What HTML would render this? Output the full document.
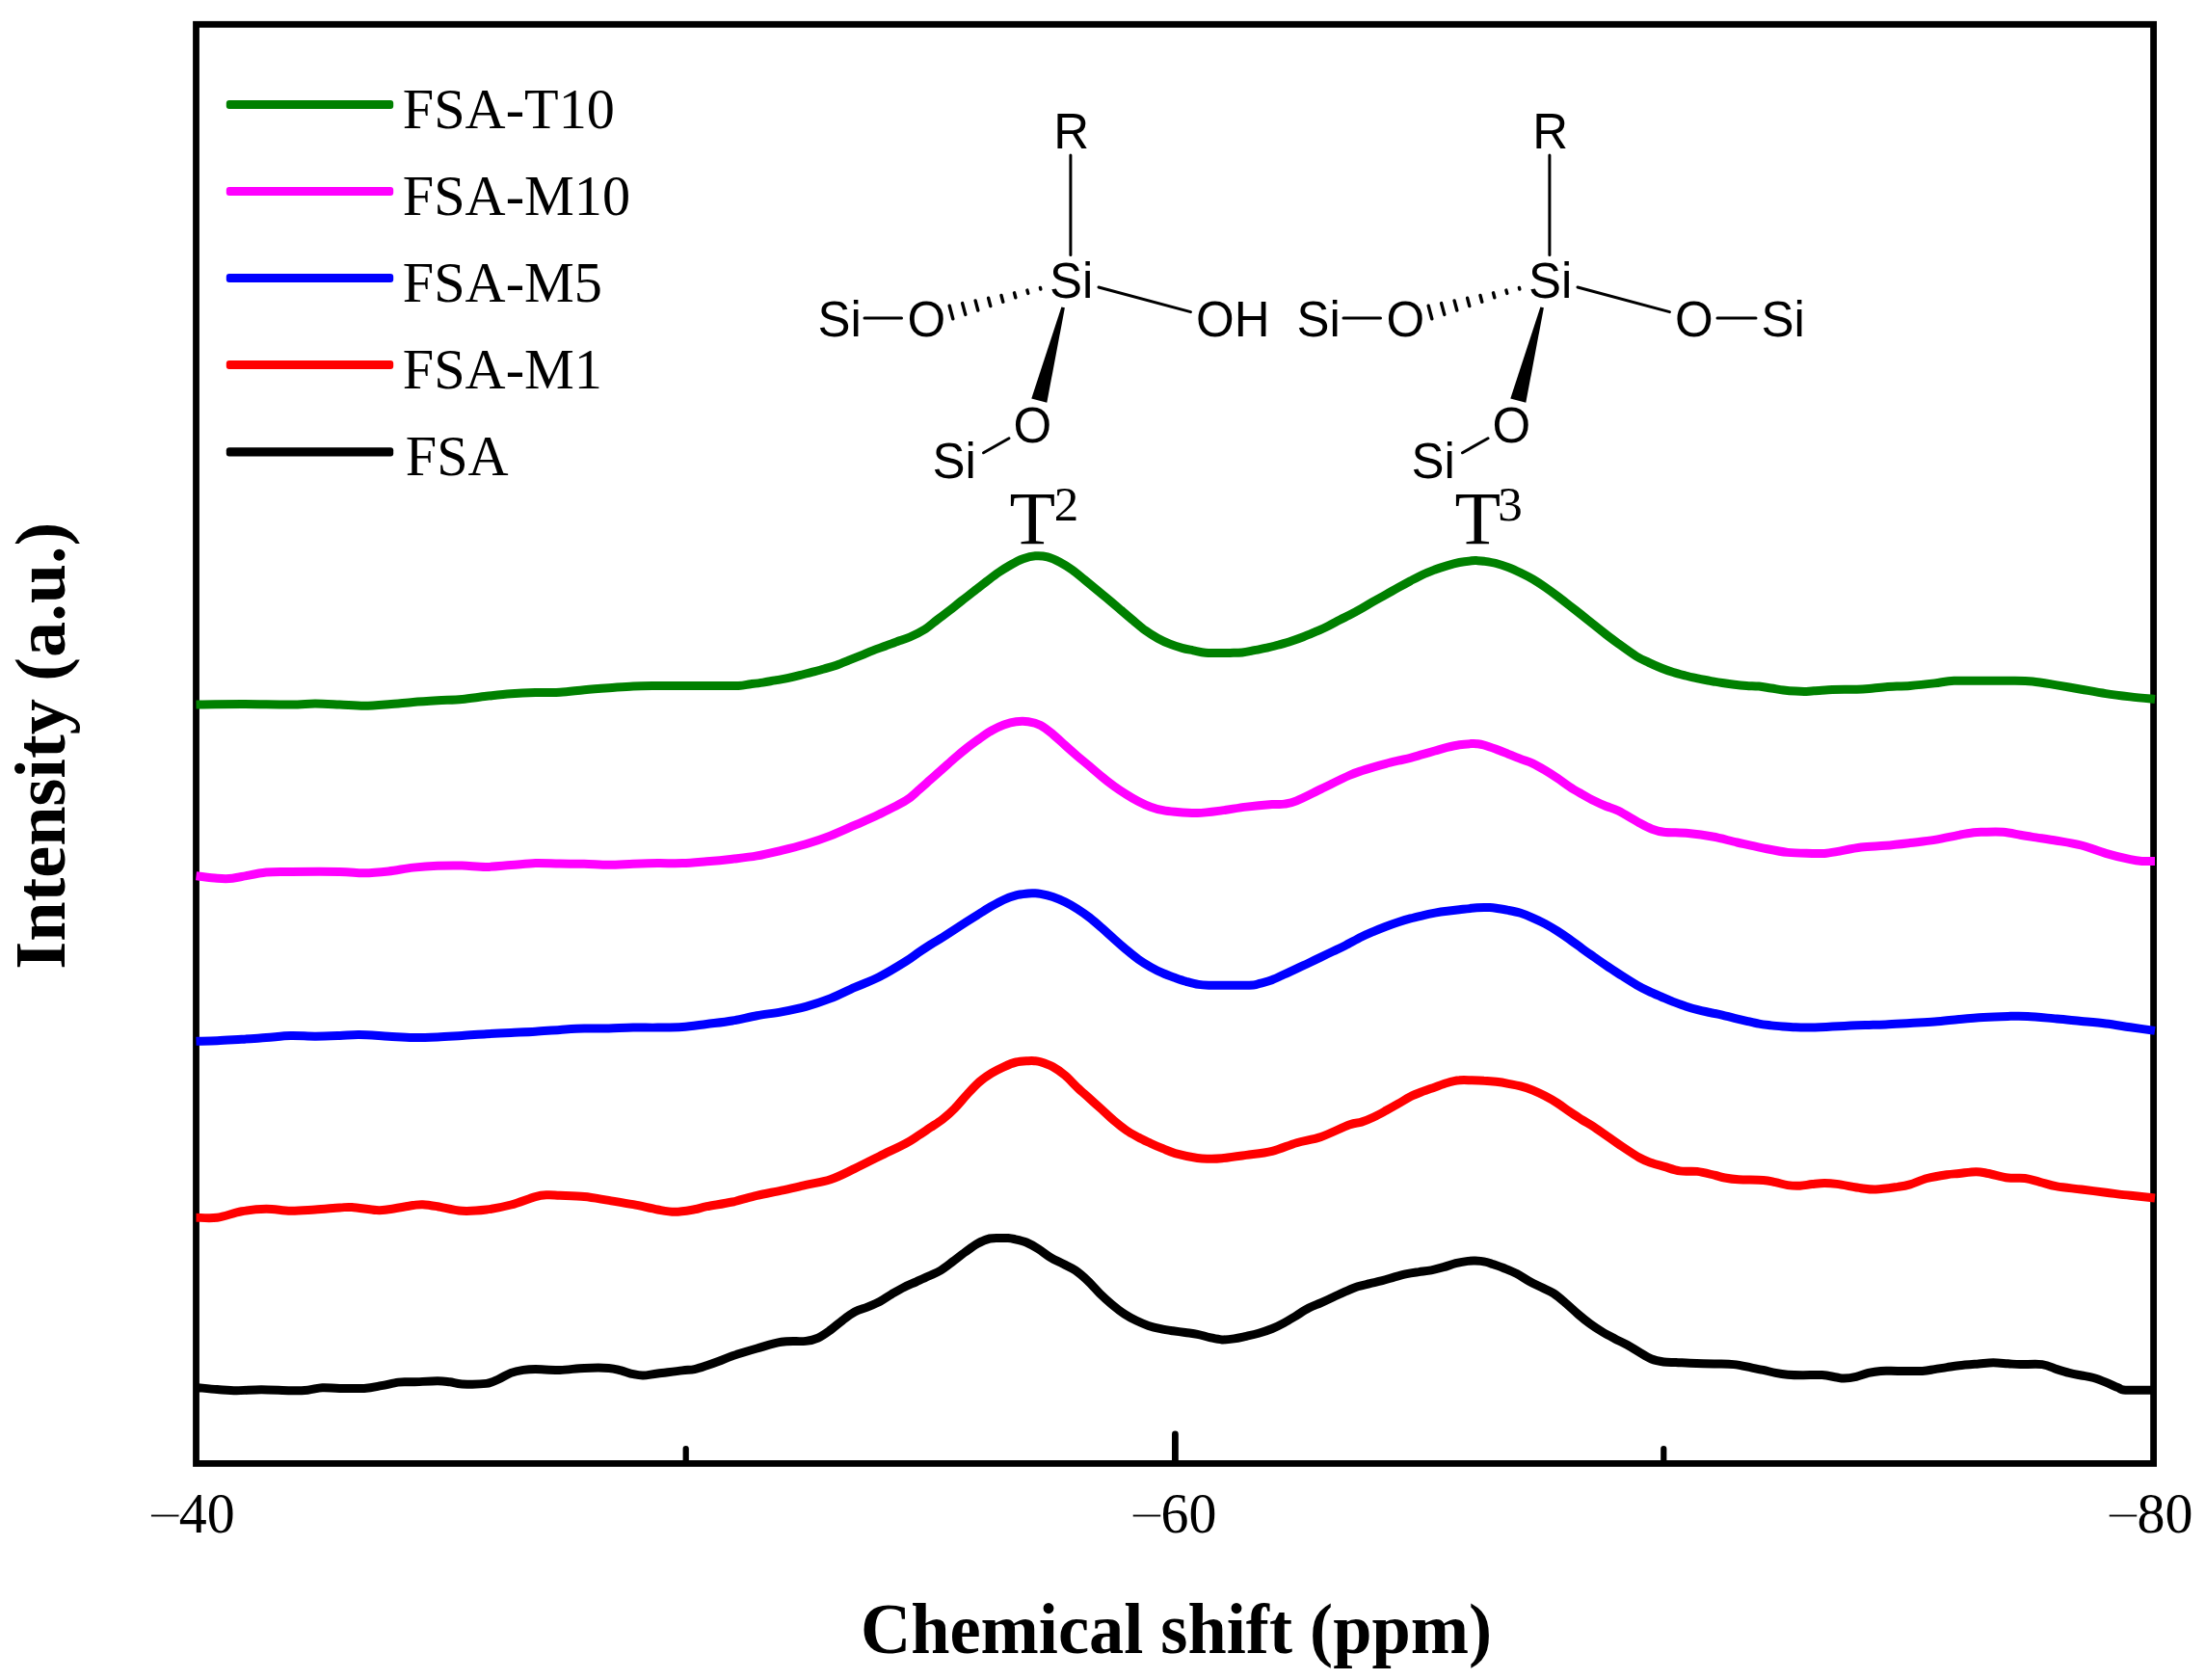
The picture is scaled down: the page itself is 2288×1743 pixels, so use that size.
<!DOCTYPE html>
<html><head><meta charset="utf-8"><title>29Si NMR spectra</title>
<style>
html,body{margin:0;padding:0;background:#fff;}
svg{display:block;}
.s{font-family:"Liberation Serif","Times New Roman",serif;}
.b{font-family:"Liberation Serif","Times New Roman",serif;font-weight:bold;}
.a{font-family:"Liberation Sans",Arial,sans-serif;}
</style></head><body>
<svg width="2288" height="1743" viewBox="0 0 2288 1743">
<rect x="0" y="0" width="2288" height="1743" fill="#fff"/>
<g id="frame" fill="none" stroke="#000" stroke-width="6.8">
<rect x="203.5" y="25.3" width="2031.1" height="1493.1" stroke-linejoin="miter"/>
<path d="M1219.4 1516V1488" stroke-linecap="round" stroke-width="6.8"/>
<path d="M711.7 1516V1503M1726.3 1516V1503" stroke-linecap="round" stroke-width="6.2"/>
</g>
<g id="curves" fill="none" stroke-width="9" stroke-linejoin="round" stroke-linecap="butt">
<path stroke="#000" d="M203.5 1439.5C207.2 1439.8 218.4 1441.0 225.4 1441.5C232.4 1442.0 238.1 1442.7 245.7 1442.7C253.3 1442.7 261.8 1441.7 271.1 1441.7C280.4 1441.7 293.6 1442.6 301.6 1442.7C309.7 1442.8 313.9 1442.7 319.4 1442.2C324.9 1441.7 329.1 1440.0 334.6 1439.7C340.1 1439.4 345.2 1440.3 352.4 1440.4C359.6 1440.5 370.6 1440.9 377.8 1440.4C385.0 1440.0 389.7 1438.8 395.6 1437.7C401.5 1436.7 407.8 1434.8 413.3 1434.1C418.8 1433.4 421.8 1434.0 428.6 1433.8C435.4 1433.6 447.6 1432.8 454.0 1432.8C460.4 1432.8 462.5 1433.3 466.7 1433.8C470.9 1434.3 473.0 1435.6 479.4 1435.9C485.8 1436.2 498.4 1436.2 504.8 1435.4C511.2 1434.6 513.3 1432.6 517.5 1430.8C521.7 1429.0 526.0 1426.0 530.2 1424.4C534.4 1422.8 538.7 1422.0 542.9 1421.4C547.1 1420.8 549.2 1420.6 555.6 1420.6C562.0 1420.6 572.5 1421.6 581.0 1421.4C589.5 1421.2 597.8 1419.7 606.3 1419.4C614.8 1419.1 625.4 1419.0 631.7 1419.4C638.1 1419.8 640.2 1420.9 644.4 1421.9C648.6 1423.0 653.3 1424.9 657.1 1425.7C660.9 1426.5 663.1 1427.1 667.3 1427.0C671.5 1426.9 675.7 1425.8 682.5 1425.0C689.3 1424.2 701.5 1422.6 707.9 1421.9C714.2 1421.2 716.4 1421.4 720.6 1420.6C724.8 1419.8 729.1 1418.2 733.3 1416.8C737.5 1415.4 741.5 1414.0 746.0 1412.3C750.5 1410.6 753.4 1408.9 760.0 1406.7C766.6 1404.5 776.9 1401.4 785.4 1399.0C793.9 1396.6 802.3 1393.5 810.8 1392.2C819.3 1390.9 829.9 1392.1 836.2 1391.4C842.6 1390.7 844.7 1390.0 848.9 1388.1C853.1 1386.2 857.4 1383.0 861.6 1380.0C865.8 1377.0 870.1 1373.0 874.3 1369.8C878.5 1366.6 882.7 1363.3 887.0 1361.0C891.3 1358.7 895.7 1357.8 900.0 1356.1C904.3 1354.4 908.5 1352.8 912.7 1350.6C916.9 1348.3 921.2 1345.1 925.4 1342.6C929.6 1340.1 933.9 1337.5 938.1 1335.4C942.3 1333.3 946.6 1331.7 950.8 1329.8C955.0 1327.9 959.3 1326.0 963.5 1324.0C967.7 1322.0 972.0 1320.5 976.2 1318.0C980.4 1315.5 984.7 1311.9 988.9 1308.7C993.1 1305.5 997.4 1302.1 1001.6 1299.0C1005.8 1295.9 1010.1 1292.5 1014.3 1290.2C1018.5 1287.9 1022.8 1286.0 1027.0 1285.0C1031.2 1284.0 1036.5 1284.6 1039.7 1284.5C1042.9 1284.4 1043.9 1284.3 1046.0 1284.5C1048.1 1284.7 1049.2 1284.8 1052.4 1285.5C1055.6 1286.2 1060.9 1287.2 1065.1 1289.0C1069.3 1290.8 1073.6 1293.3 1077.8 1296.0C1082.0 1298.7 1086.3 1302.4 1090.5 1304.9C1094.7 1307.5 1099.0 1309.1 1103.2 1311.3C1107.4 1313.5 1111.7 1315.1 1115.9 1318.0C1120.1 1320.9 1124.4 1324.7 1128.6 1328.7C1132.8 1332.7 1137.1 1337.9 1141.3 1342.1C1145.5 1346.2 1149.8 1350.1 1154.0 1353.6C1158.2 1357.1 1162.5 1360.5 1166.7 1363.3C1170.9 1366.1 1175.2 1368.3 1179.4 1370.3C1183.6 1372.3 1187.5 1374.0 1191.7 1375.4C1195.9 1376.8 1200.2 1377.8 1204.4 1378.7C1208.6 1379.6 1212.9 1380.2 1217.1 1380.8C1221.3 1381.4 1225.6 1381.9 1229.8 1382.5C1234.0 1383.1 1238.3 1383.5 1242.5 1384.3C1246.7 1385.1 1251.0 1386.7 1255.2 1387.6C1259.4 1388.5 1263.7 1389.7 1267.9 1389.9C1272.1 1390.1 1276.4 1389.5 1280.6 1388.9C1284.8 1388.3 1289.1 1387.2 1293.3 1386.3C1297.5 1385.4 1301.5 1384.6 1306.0 1383.3C1310.5 1382.0 1315.5 1380.3 1320.0 1378.5C1324.5 1376.7 1328.5 1374.7 1332.7 1372.4C1336.9 1370.1 1341.2 1367.3 1345.4 1364.8C1349.6 1362.2 1353.9 1359.3 1358.1 1357.1C1362.3 1354.9 1366.6 1353.5 1370.8 1351.6C1375.0 1349.7 1379.3 1347.7 1383.5 1345.7C1387.7 1343.8 1392.0 1341.7 1396.2 1339.9C1400.4 1338.1 1404.7 1336.2 1408.9 1334.8C1413.1 1333.4 1417.4 1332.7 1421.6 1331.7C1425.8 1330.7 1430.1 1329.8 1434.3 1328.7C1438.5 1327.6 1442.8 1326.1 1447.0 1324.9C1451.2 1323.7 1455.5 1322.5 1459.7 1321.6C1463.9 1320.7 1468.2 1320.2 1472.4 1319.6C1476.6 1319.0 1480.9 1318.6 1485.1 1317.8C1489.3 1317.0 1493.6 1315.9 1497.8 1314.7C1502.0 1313.5 1506.3 1311.8 1510.5 1310.7C1514.7 1309.7 1519.8 1308.8 1523.2 1308.4C1526.6 1308.0 1527.8 1308.0 1530.8 1308.1C1533.8 1308.2 1538.0 1308.5 1541.0 1309.1C1544.0 1309.6 1545.2 1310.2 1548.6 1311.4C1552.0 1312.6 1557.1 1314.3 1561.3 1316.0C1565.5 1317.7 1569.8 1319.4 1574.0 1321.6C1578.2 1323.8 1582.5 1326.9 1586.7 1329.2C1590.9 1331.5 1595.2 1333.5 1599.4 1335.6C1603.6 1337.7 1607.9 1339.2 1612.1 1341.9C1616.3 1344.7 1620.6 1348.5 1624.8 1352.1C1629.0 1355.7 1633.3 1359.9 1637.5 1363.5C1641.7 1367.1 1646.0 1370.6 1650.2 1373.7C1654.4 1376.8 1658.7 1379.5 1662.9 1382.0C1667.1 1384.5 1671.4 1386.7 1675.6 1388.9C1679.8 1391.1 1684.1 1392.9 1688.3 1395.2C1692.5 1397.5 1696.8 1400.4 1701.0 1402.9C1705.2 1405.4 1709.5 1408.3 1713.7 1410.0C1717.9 1411.7 1722.1 1412.4 1726.3 1413.0C1730.5 1413.6 1734.5 1413.3 1739.0 1413.5C1743.5 1413.7 1746.8 1414.0 1753.4 1414.3C1760.0 1414.5 1771.2 1414.8 1778.8 1415.0C1786.4 1415.2 1792.8 1414.9 1799.1 1415.6C1805.4 1416.2 1811.8 1417.9 1816.9 1418.9C1822.0 1419.9 1825.4 1420.5 1829.6 1421.4C1833.8 1422.3 1838.1 1423.6 1842.3 1424.4C1846.5 1425.2 1850.3 1425.8 1855.0 1426.2C1859.7 1426.6 1864.3 1426.7 1870.2 1426.7C1876.1 1426.8 1884.6 1426.1 1890.5 1426.5C1896.4 1426.9 1902.0 1428.4 1905.8 1429.0C1909.6 1429.6 1910.0 1430.1 1913.4 1430.0C1916.8 1429.9 1921.9 1429.2 1926.1 1428.3C1930.3 1427.4 1934.6 1425.4 1938.8 1424.4C1943.0 1423.4 1946.4 1422.7 1951.5 1422.4C1956.6 1422.1 1962.1 1422.4 1969.3 1422.4C1976.5 1422.4 1988.3 1422.7 1994.7 1422.4C2001.1 1422.1 2003.2 1421.2 2007.4 1420.6C2011.6 1420.0 2015.9 1419.2 2020.1 1418.6C2024.3 1418.0 2027.3 1417.4 2032.8 1416.8C2038.3 1416.2 2047.2 1415.5 2053.1 1415.0C2059.0 1414.5 2063.2 1413.8 2068.3 1413.8C2073.4 1413.8 2078.9 1414.5 2083.6 1414.8C2088.3 1415.1 2090.4 1415.5 2096.3 1415.6C2102.2 1415.7 2112.8 1414.8 2119.1 1415.6C2125.4 1416.4 2129.7 1419.1 2134.3 1420.6C2139.0 1422.1 2142.8 1423.3 2147.0 1424.4C2151.2 1425.5 2155.5 1426.2 2159.7 1427.0C2163.9 1427.8 2168.2 1428.3 2172.4 1429.5C2176.6 1430.7 2180.9 1432.4 2185.1 1434.1C2189.3 1435.8 2194.4 1438.3 2197.8 1439.7C2201.2 1441.1 2199.1 1441.8 2205.5 1442.2C2211.9 1442.6 2230.9 1442.2 2236.0 1442.2"/>
<path stroke="#ff0000" d="M203.5 1263.2C207.2 1263.2 217.5 1264.3 225.4 1263.2C233.3 1262.1 242.3 1258.3 250.8 1256.8C259.3 1255.3 267.7 1254.4 276.2 1254.3C284.7 1254.2 293.1 1256.2 301.6 1256.3C310.1 1256.4 318.5 1255.5 327.0 1255.0C335.5 1254.5 346.0 1253.4 352.4 1253.0C358.8 1252.6 358.8 1252.1 365.1 1252.5C371.5 1252.9 384.1 1255.2 390.5 1255.6C396.9 1256.0 396.8 1255.6 403.2 1254.8C409.6 1254.0 422.7 1251.3 428.6 1250.5C434.5 1249.7 434.5 1249.5 438.7 1249.7C442.9 1249.9 447.2 1250.6 454.0 1251.7C460.8 1252.8 470.9 1255.8 479.4 1256.3C487.9 1256.8 496.3 1256.0 504.8 1255.0C513.3 1254.0 521.7 1252.2 530.2 1250.0C538.7 1247.8 549.2 1243.3 555.6 1241.6C562.0 1239.9 564.1 1240.0 568.3 1239.8C572.5 1239.6 574.7 1240.0 581.0 1240.3C587.3 1240.6 597.8 1240.8 606.3 1241.6C614.8 1242.4 623.2 1244.1 631.7 1245.4C640.2 1246.8 648.6 1248.1 657.1 1249.7C665.6 1251.3 675.3 1253.7 682.5 1255.0C689.7 1256.3 693.9 1257.3 700.3 1257.3C706.6 1257.3 715.1 1255.7 720.6 1254.8C726.1 1253.9 726.7 1253.0 733.3 1251.7C739.9 1250.4 751.3 1248.9 760.0 1247.0C768.7 1245.1 776.9 1242.3 785.4 1240.3C793.9 1238.3 802.3 1237.0 810.8 1235.2C819.3 1233.4 827.7 1231.3 836.2 1229.4C844.7 1227.5 853.1 1226.6 861.6 1223.8C870.1 1221.0 878.5 1216.4 887.0 1212.4C895.5 1208.4 903.6 1204.1 912.4 1199.7C921.2 1195.3 933.3 1189.8 940.0 1186.2C946.7 1182.6 948.5 1181.0 952.7 1178.3C956.9 1175.6 961.2 1172.6 965.4 1169.8C969.6 1167.0 973.9 1164.5 978.1 1161.2C982.3 1157.9 986.6 1154.1 990.8 1149.8C995.0 1145.5 999.3 1140.0 1003.5 1135.5C1007.7 1131.0 1012.0 1126.2 1016.2 1122.5C1020.4 1118.8 1024.7 1116.0 1028.9 1113.4C1033.1 1110.8 1037.4 1108.7 1041.6 1106.8C1045.8 1104.9 1050.1 1103.0 1054.3 1102.0C1058.5 1101.0 1063.8 1100.9 1067.0 1100.7C1070.2 1100.5 1071.2 1100.5 1073.3 1100.7C1075.4 1100.9 1076.5 1100.8 1079.7 1101.8C1082.9 1102.8 1088.2 1104.5 1092.4 1106.8C1096.6 1109.1 1100.9 1112.1 1105.1 1115.7C1109.3 1119.3 1113.6 1124.2 1117.8 1128.2C1122.0 1132.2 1126.3 1135.8 1130.5 1139.6C1134.7 1143.4 1139.0 1147.2 1143.2 1151.0C1147.4 1154.8 1151.7 1159.1 1155.9 1162.7C1160.1 1166.3 1164.4 1169.7 1168.6 1172.6C1172.8 1175.5 1177.1 1177.7 1181.3 1180.0C1185.5 1182.3 1189.8 1184.2 1194.0 1186.2C1198.2 1188.2 1202.5 1190.0 1206.7 1191.7C1210.9 1193.4 1213.4 1195.0 1219.4 1196.6C1225.4 1198.2 1236.5 1200.6 1242.5 1201.5C1248.5 1202.4 1251.0 1202.2 1255.2 1202.2C1259.4 1202.2 1261.6 1202.3 1267.9 1201.7C1274.2 1201.1 1284.6 1199.6 1293.3 1198.4C1302.0 1197.2 1311.3 1196.4 1320.0 1194.3C1328.7 1192.2 1336.9 1188.2 1345.4 1185.7C1353.9 1183.2 1361.7 1182.5 1370.8 1179.4C1379.9 1176.3 1393.0 1169.5 1400.0 1167.0C1407.0 1164.5 1408.5 1165.4 1412.7 1164.1C1416.9 1162.8 1421.2 1161.0 1425.4 1159.0C1429.6 1157.0 1433.9 1154.6 1438.1 1152.3C1442.3 1150.0 1446.6 1147.6 1450.8 1145.2C1455.0 1142.8 1459.3 1139.8 1463.5 1137.7C1467.7 1135.6 1472.0 1134.0 1476.2 1132.4C1480.4 1130.8 1484.7 1129.4 1488.9 1127.9C1493.1 1126.4 1497.4 1124.7 1501.6 1123.5C1505.8 1122.3 1510.1 1121.2 1514.3 1120.8C1518.5 1120.3 1522.8 1120.7 1527.0 1120.8C1531.2 1120.9 1535.5 1121.0 1539.7 1121.3C1543.9 1121.5 1548.2 1121.8 1552.4 1122.3C1556.6 1122.8 1560.9 1123.5 1565.1 1124.3C1569.3 1125.1 1573.6 1125.8 1577.8 1126.9C1582.0 1128.0 1586.3 1129.4 1590.5 1131.1C1594.7 1132.8 1599.0 1134.9 1603.2 1137.1C1607.4 1139.3 1611.7 1141.7 1615.9 1144.4C1620.1 1147.1 1624.4 1150.4 1628.6 1153.3C1632.8 1156.2 1637.1 1158.9 1641.3 1161.6C1645.5 1164.2 1649.8 1166.5 1654.0 1169.2C1658.2 1172.0 1662.5 1175.1 1666.7 1178.1C1670.9 1181.1 1673.7 1183.2 1679.4 1187.0C1685.1 1190.8 1695.3 1197.8 1701.0 1201.0C1706.7 1204.2 1709.4 1204.9 1713.7 1206.5C1718.0 1208.1 1722.1 1209.0 1727.0 1210.4C1731.9 1211.8 1737.5 1214.1 1743.2 1214.9C1748.9 1215.7 1755.1 1214.7 1761.0 1215.4C1766.9 1216.1 1774.0 1218.1 1778.8 1219.2C1783.6 1220.3 1785.6 1221.2 1789.8 1222.0C1794.0 1222.8 1797.6 1223.4 1804.2 1223.8C1810.8 1224.2 1823.2 1224.0 1829.6 1224.5C1835.9 1225.0 1838.1 1225.9 1842.3 1226.7C1846.5 1227.5 1850.8 1229.0 1855.0 1229.6C1859.2 1230.2 1863.5 1230.4 1867.7 1230.2C1871.9 1230.0 1876.2 1229.0 1880.4 1228.6C1884.6 1228.2 1888.9 1227.6 1893.1 1227.6C1897.3 1227.6 1899.4 1227.6 1905.8 1228.4C1912.2 1229.2 1924.4 1231.8 1931.2 1232.7C1938.0 1233.6 1940.1 1234.2 1946.4 1234.0C1952.8 1233.8 1963.4 1232.2 1969.3 1231.4C1975.2 1230.6 1976.9 1230.4 1982.0 1228.9C1987.1 1227.4 1993.4 1224.2 1999.7 1222.5C2006.0 1220.8 2014.6 1219.5 2020.1 1218.7C2025.6 1217.9 2027.7 1218.0 2032.8 1217.5C2037.9 1217.0 2045.4 1215.7 2050.5 1215.7C2055.6 1215.7 2057.7 1216.5 2063.2 1217.5C2068.7 1218.5 2077.2 1221.2 2083.6 1222.0C2089.9 1222.8 2095.8 1221.8 2101.3 1222.5C2106.8 1223.2 2111.1 1224.9 2116.6 1226.3C2122.1 1227.7 2127.1 1229.6 2134.3 1230.9C2141.5 1232.2 2151.2 1232.9 2159.7 1234.0C2168.2 1235.1 2176.6 1236.2 2185.1 1237.3C2193.6 1238.3 2202.0 1239.4 2210.5 1240.3C2219.0 1241.2 2231.8 1242.5 2236.0 1242.9"/>
<path stroke="#0000ff" d="M203.5 1080.3C207.2 1080.2 217.5 1080.1 225.4 1079.8C233.3 1079.5 242.3 1078.8 250.8 1078.3C259.3 1077.8 267.7 1077.1 276.2 1076.5C284.7 1075.9 293.1 1074.7 301.6 1074.5C310.1 1074.3 318.5 1075.2 327.0 1075.2C335.5 1075.2 344.8 1074.8 352.4 1074.5C360.0 1074.2 364.2 1073.4 372.7 1073.5C381.2 1073.6 393.9 1074.7 403.2 1075.2C412.5 1075.7 420.1 1076.4 428.6 1076.5C437.1 1076.6 445.5 1076.3 454.0 1076.0C462.5 1075.7 470.9 1075.0 479.4 1074.5C487.9 1074.0 496.3 1073.2 504.8 1072.7C513.3 1072.2 521.7 1071.8 530.2 1071.4C538.7 1071.0 547.1 1070.7 555.6 1070.2C564.1 1069.7 572.5 1068.9 581.0 1068.4C589.5 1067.9 597.8 1067.3 606.3 1067.1C614.8 1066.8 623.2 1067.1 631.7 1066.9C640.2 1066.7 648.6 1066.2 657.1 1066.1C665.6 1066.0 674.0 1066.2 682.5 1066.1C691.0 1066.0 699.4 1066.2 707.9 1065.6C716.4 1065.0 724.6 1063.6 733.3 1062.5C742.0 1061.4 751.3 1060.5 760.0 1059.0C768.7 1057.5 776.9 1055.2 785.4 1053.7C793.9 1052.2 802.3 1051.4 810.8 1049.8C819.3 1048.2 827.7 1046.6 836.2 1044.3C844.7 1042.0 853.1 1039.2 861.6 1035.9C870.1 1032.6 878.5 1028.1 887.0 1024.4C895.5 1020.7 903.6 1018.0 912.4 1013.5C921.2 1009.0 933.3 1001.6 940.0 997.4C946.7 993.2 948.5 991.4 952.7 988.5C956.9 985.6 961.2 982.8 965.4 980.1C969.6 977.4 973.9 975.1 978.1 972.5C982.3 969.9 986.6 967.0 990.8 964.3C995.0 961.5 999.3 958.7 1003.5 956.0C1007.7 953.3 1012.0 950.6 1016.2 948.0C1020.4 945.4 1024.7 942.6 1028.9 940.2C1033.1 937.8 1037.4 935.4 1041.6 933.5C1045.8 931.6 1050.1 930.0 1054.3 928.9C1058.5 927.8 1063.8 927.4 1067.0 927.0C1070.2 926.6 1071.2 926.8 1073.3 926.8C1075.4 926.8 1076.5 926.7 1079.7 927.3C1082.9 927.9 1088.2 929.0 1092.4 930.4C1096.6 931.8 1100.9 933.7 1105.1 935.8C1109.3 937.9 1113.6 940.3 1117.8 943.0C1122.0 945.7 1126.3 948.6 1130.5 951.9C1134.7 955.2 1139.0 959.0 1143.2 962.7C1147.4 966.4 1151.7 970.4 1155.9 974.1C1160.1 977.9 1164.4 981.7 1168.6 985.2C1172.8 988.7 1177.1 992.3 1181.3 995.3C1185.5 998.3 1189.8 1000.9 1194.0 1003.3C1198.2 1005.7 1202.5 1007.8 1206.7 1009.7C1210.9 1011.6 1215.4 1013.1 1219.4 1014.5C1223.4 1015.9 1226.8 1017.1 1230.8 1018.3C1234.8 1019.4 1239.3 1020.7 1243.5 1021.4C1247.7 1022.1 1249.9 1022.1 1256.2 1022.3C1262.5 1022.4 1274.2 1022.3 1281.6 1022.3C1289.0 1022.2 1296.4 1022.3 1300.6 1022.0C1304.8 1021.7 1303.8 1021.3 1307.0 1020.4C1310.2 1019.5 1315.5 1018.4 1319.7 1016.8C1323.9 1015.2 1328.2 1013.0 1332.4 1011.0C1336.6 1009.0 1340.9 1007.1 1345.1 1005.1C1349.3 1003.1 1353.6 1001.2 1357.8 999.2C1362.0 997.2 1366.3 995.1 1370.5 993.1C1374.7 991.1 1379.0 989.0 1383.2 987.0C1387.4 985.0 1391.0 983.4 1395.9 980.9C1400.8 978.4 1407.8 974.4 1412.7 972.0C1417.6 969.6 1421.2 968.1 1425.4 966.3C1429.6 964.5 1433.9 962.8 1438.1 961.2C1442.3 959.6 1446.6 958.1 1450.8 956.7C1455.0 955.3 1459.3 954.0 1463.5 952.9C1467.7 951.8 1472.0 950.8 1476.2 949.8C1480.4 948.8 1484.7 947.9 1488.9 947.1C1493.1 946.4 1497.4 945.8 1501.6 945.3C1505.8 944.8 1510.1 944.3 1514.3 943.8C1518.5 943.3 1522.8 942.7 1527.0 942.3C1531.2 941.9 1536.5 941.7 1539.7 941.6C1542.9 941.5 1543.9 941.5 1546.0 941.6C1548.1 941.7 1549.2 941.8 1552.4 942.3C1555.6 942.8 1560.9 943.6 1565.1 944.4C1569.3 945.2 1573.6 946.0 1577.8 947.3C1582.0 948.6 1586.3 950.4 1590.5 952.3C1594.7 954.1 1599.0 956.1 1603.2 958.4C1607.4 960.7 1611.7 963.2 1615.9 965.9C1620.1 968.6 1624.4 971.5 1628.6 974.5C1632.8 977.5 1637.1 980.7 1641.3 983.8C1645.5 986.9 1649.8 989.9 1654.0 992.9C1658.2 995.9 1662.5 998.9 1666.7 1001.8C1670.9 1004.7 1674.2 1006.8 1679.4 1010.1C1684.6 1013.4 1692.9 1018.8 1698.1 1021.8C1703.3 1024.8 1706.6 1026.4 1710.8 1028.4C1715.0 1030.4 1719.3 1032.2 1723.5 1034.0C1727.7 1035.8 1732.0 1037.8 1736.2 1039.4C1740.4 1041.1 1744.7 1042.5 1748.9 1043.9C1753.1 1045.3 1757.4 1046.6 1761.6 1047.7C1765.8 1048.8 1770.1 1049.6 1774.3 1050.5C1778.5 1051.4 1782.8 1052.1 1787.0 1053.1C1791.2 1054.1 1795.5 1055.3 1799.7 1056.3C1803.9 1057.3 1808.2 1058.3 1812.4 1059.3C1816.6 1060.3 1820.9 1061.4 1825.1 1062.2C1829.3 1063.0 1833.6 1063.4 1837.8 1063.9C1842.0 1064.4 1846.3 1064.7 1850.5 1065.0C1854.7 1065.3 1859.0 1065.6 1863.2 1065.8C1867.4 1066.0 1871.7 1066.0 1875.9 1066.0C1880.1 1066.0 1884.4 1066.0 1888.6 1065.8C1892.8 1065.6 1897.1 1065.3 1901.3 1065.1C1905.5 1064.9 1909.8 1064.6 1914.0 1064.4C1918.2 1064.2 1922.5 1063.9 1926.7 1063.7C1930.9 1063.5 1934.4 1063.5 1939.4 1063.4C1944.4 1063.3 1949.5 1063.3 1956.6 1063.0C1963.7 1062.7 1973.5 1062.0 1982.0 1061.5C1990.5 1061.0 1998.9 1060.7 2007.4 1060.0C2015.9 1059.3 2024.3 1058.3 2032.8 1057.5C2041.3 1056.7 2049.7 1055.9 2058.2 1055.4C2066.7 1054.9 2076.0 1054.6 2083.6 1054.4C2091.2 1054.2 2095.4 1054.0 2103.9 1054.4C2112.4 1054.8 2125.0 1056.2 2134.3 1057.0C2143.6 1057.8 2151.2 1058.7 2159.7 1059.5C2168.2 1060.3 2176.6 1061.0 2185.1 1062.0C2193.6 1063.0 2202.0 1064.6 2210.5 1065.8C2219.0 1067.0 2231.8 1068.8 2236.0 1069.4"/>
<path stroke="#ff00ff" d="M203.5 908.8C207.2 909.2 219.7 910.8 225.4 911.3C231.2 911.8 233.8 911.9 238.0 911.6C242.2 911.3 244.4 910.6 250.8 909.5C257.2 908.4 267.7 905.9 276.2 905.0C284.7 904.1 288.9 904.5 301.6 904.4C314.3 904.3 339.7 904.2 352.4 904.4C365.1 904.6 369.3 905.8 377.8 905.7C386.3 905.6 394.7 904.8 403.2 903.9C411.7 903.0 420.1 901.0 428.6 900.1C437.1 899.2 445.5 898.6 454.0 898.3C462.5 898.0 470.9 897.9 479.4 898.1C487.9 898.3 496.3 899.5 504.8 899.4C513.3 899.3 521.7 898.2 530.2 897.6C538.7 897.0 547.1 895.9 555.6 895.6C564.1 895.4 572.5 896.0 581.0 896.1C589.5 896.2 597.8 896.1 606.3 896.3C614.8 896.5 623.2 897.3 631.7 897.3C640.2 897.3 648.6 896.6 657.1 896.3C665.6 896.0 674.0 895.7 682.5 895.6C691.0 895.5 699.4 895.9 707.9 895.6C716.4 895.3 724.6 894.5 733.3 893.8C742.0 893.1 751.3 892.2 760.0 891.2C768.7 890.2 776.9 889.4 785.4 887.9C793.9 886.4 802.3 884.3 810.8 882.3C819.3 880.3 827.7 878.2 836.2 875.7C844.7 873.2 853.1 870.4 861.6 867.1C870.1 863.9 878.5 859.9 887.0 856.2C895.5 852.5 903.6 849.1 912.4 844.8C921.2 840.5 933.3 834.6 940.0 830.5C946.7 826.4 948.5 823.7 952.7 820.1C956.9 816.5 961.2 812.6 965.4 808.9C969.6 805.2 973.9 801.5 978.1 797.7C982.3 794.0 986.6 790.0 990.8 786.4C995.0 782.8 999.3 779.2 1003.5 775.9C1007.7 772.6 1012.0 769.5 1016.2 766.5C1020.4 763.5 1024.7 760.4 1028.9 758.0C1033.1 755.6 1037.4 753.4 1041.6 751.9C1045.8 750.4 1050.1 749.2 1054.3 748.7C1058.5 748.2 1062.8 748.1 1067.0 748.7C1071.2 749.3 1075.5 750.2 1079.7 752.4C1083.9 754.6 1088.2 758.2 1092.4 761.7C1096.6 765.2 1100.9 769.3 1105.1 773.1C1109.3 776.9 1113.6 780.7 1117.8 784.3C1122.0 787.9 1126.3 791.3 1130.5 794.9C1134.7 798.5 1139.0 802.2 1143.2 805.7C1147.4 809.2 1151.7 812.5 1155.9 815.6C1160.1 818.7 1164.4 821.5 1168.6 824.1C1172.8 826.8 1177.1 829.3 1181.3 831.5C1185.5 833.7 1189.8 835.7 1194.0 837.2C1198.2 838.7 1202.5 839.9 1206.7 840.7C1210.9 841.6 1213.4 841.8 1219.4 842.3C1225.4 842.8 1234.4 843.7 1242.5 843.5C1250.6 843.3 1259.4 842.0 1267.9 840.9C1276.4 839.8 1284.6 838.1 1293.3 837.1C1302.0 836.1 1313.4 835.1 1320.0 834.6C1326.6 834.1 1328.5 834.7 1332.7 834.1C1336.9 833.5 1339.1 833.4 1345.4 830.8C1351.8 828.2 1361.7 823.0 1370.8 818.6C1379.9 814.2 1393.0 807.6 1400.0 804.5C1407.0 801.4 1408.5 801.2 1412.7 799.8C1416.9 798.4 1421.2 797.1 1425.4 795.9C1429.6 794.6 1433.9 793.4 1438.1 792.3C1442.3 791.2 1446.6 790.2 1450.8 789.2C1455.0 788.2 1459.3 787.5 1463.5 786.4C1467.7 785.3 1472.0 783.9 1476.2 782.7C1480.4 781.5 1484.7 780.2 1488.9 779.0C1493.1 777.8 1497.4 776.4 1501.6 775.4C1505.8 774.4 1510.1 773.4 1514.3 772.8C1518.5 772.2 1523.8 771.8 1527.0 771.6C1530.2 771.4 1531.2 771.6 1533.3 771.8C1535.4 772.0 1536.5 772.1 1539.7 773.0C1542.9 773.9 1548.2 775.7 1552.4 777.2C1556.6 778.8 1560.9 780.6 1565.1 782.3C1569.3 784.0 1573.6 785.8 1577.8 787.4C1582.0 789.0 1586.3 790.1 1590.5 792.1C1594.7 794.1 1599.0 796.7 1603.2 799.2C1607.4 801.7 1611.7 804.5 1615.9 807.3C1620.1 810.1 1624.4 813.5 1628.6 816.2C1632.8 819.0 1637.1 821.4 1641.3 823.8C1645.5 826.2 1649.8 828.7 1654.0 830.8C1658.2 832.9 1662.5 834.8 1666.7 836.5C1670.9 838.2 1673.7 838.4 1679.4 841.3C1685.1 844.2 1695.3 850.6 1701.0 853.7C1706.7 856.8 1709.5 858.4 1713.7 860.0C1717.9 861.6 1720.0 862.5 1726.3 863.2C1732.6 864.0 1743.2 863.7 1751.7 864.5C1760.2 865.3 1768.6 866.4 1777.1 868.0C1785.6 869.6 1794.0 872.1 1802.5 874.0C1811.0 875.9 1819.2 877.9 1827.9 879.6C1836.7 881.3 1846.2 883.4 1855.0 884.4C1863.8 885.4 1874.1 885.2 1880.4 885.4C1886.8 885.6 1888.9 885.7 1893.1 885.4C1897.3 885.1 1899.4 884.7 1905.8 883.6C1912.2 882.5 1922.7 880.0 1931.2 879.0C1939.7 878.0 1948.1 878.0 1956.6 877.3C1965.1 876.5 1973.5 875.5 1982.0 874.5C1990.5 873.5 1998.9 872.8 2007.4 871.4C2015.9 870.0 2026.0 867.6 2032.8 866.3C2039.6 865.0 2043.8 864.3 2048.0 863.8C2052.2 863.3 2053.1 863.4 2058.2 863.3C2063.3 863.2 2072.2 862.8 2078.5 863.3C2084.8 863.8 2091.2 865.4 2096.3 866.3C2101.4 867.1 2102.7 867.4 2109.0 868.4C2115.3 869.4 2125.9 870.8 2134.3 872.2C2142.8 873.6 2151.2 874.8 2159.7 877.0C2168.2 879.2 2176.6 882.9 2185.1 885.4C2193.6 887.9 2204.2 890.4 2210.5 891.7C2216.8 893.1 2218.9 893.2 2223.2 893.5C2227.4 893.8 2233.9 893.5 2236.0 893.5"/>
<path stroke="#008000" d="M203.5 731.0C211.4 730.9 234.5 730.5 250.8 730.5C267.2 730.5 288.9 731.1 301.6 731.0C314.3 730.9 318.5 730.0 327.0 730.0C335.5 730.0 343.9 730.6 352.4 731.0C360.9 731.4 369.3 732.3 377.8 732.3C386.3 732.2 394.7 731.4 403.2 730.7C411.7 730.1 420.1 729.1 428.6 728.4C437.1 727.7 445.5 727.2 454.0 726.7C462.5 726.2 470.9 726.1 479.4 725.4C487.9 724.7 496.3 723.2 504.8 722.3C513.3 721.4 521.7 720.4 530.2 719.8C538.7 719.2 547.1 718.8 555.6 718.5C564.1 718.2 572.5 718.8 581.0 718.3C589.5 717.8 597.8 716.5 606.3 715.7C614.8 714.9 623.2 714.3 631.7 713.7C640.2 713.1 648.6 712.3 657.1 711.9C665.6 711.5 677.0 711.5 682.5 711.4C688.0 711.3 684.5 711.5 690.0 711.5C695.5 711.5 706.9 711.5 715.4 711.5C723.9 711.5 732.3 711.5 740.8 711.5C749.3 711.5 759.9 711.7 766.2 711.4C772.6 711.1 774.7 710.2 778.9 709.7C783.1 709.2 787.4 708.7 791.6 708.1C795.8 707.5 800.1 706.6 804.3 705.9C808.5 705.2 812.8 704.6 817.0 703.7C821.2 702.8 825.5 701.7 829.7 700.6C833.9 699.5 838.2 698.5 842.4 697.4C846.6 696.3 850.9 695.2 855.1 694.0C859.3 692.8 863.6 691.7 867.8 690.2C872.0 688.7 876.3 686.9 880.5 685.2C884.7 683.5 889.0 681.8 893.2 680.1C897.4 678.4 901.7 676.5 905.9 674.9C910.1 673.2 914.4 671.8 918.6 670.2C922.8 668.6 927.1 666.9 931.3 665.4C935.5 663.9 939.2 663.1 944.0 661.0C948.8 658.9 955.2 655.7 960.0 652.7C964.8 649.7 968.5 646.0 972.7 642.8C976.9 639.6 981.2 636.6 985.4 633.3C989.6 630.0 993.9 626.4 998.1 623.1C1002.3 619.8 1006.6 616.6 1010.8 613.3C1015.0 610.0 1019.3 606.6 1023.5 603.4C1027.7 600.2 1032.0 596.8 1036.2 593.9C1040.4 591.0 1044.7 588.4 1048.9 586.0C1053.1 583.6 1057.4 581.3 1061.6 579.8C1065.8 578.3 1070.1 577.1 1074.3 576.8C1078.5 576.5 1082.8 576.8 1087.0 577.9C1091.2 579.0 1095.5 581.0 1099.7 583.2C1103.9 585.4 1108.2 588.1 1112.4 591.1C1116.6 594.1 1120.9 597.8 1125.1 601.3C1129.3 604.8 1133.6 608.3 1137.8 611.8C1142.0 615.3 1146.3 618.7 1150.5 622.2C1154.7 625.7 1159.0 629.4 1163.2 633.0C1167.4 636.6 1171.7 640.3 1175.9 643.8C1180.1 647.3 1184.4 651.1 1188.6 654.2C1192.8 657.3 1197.1 659.9 1201.3 662.2C1205.5 664.5 1209.8 666.5 1214.0 668.2C1218.2 669.9 1222.7 671.3 1226.7 672.4C1230.7 673.5 1234.1 674.0 1238.1 674.8C1242.1 675.6 1246.6 676.8 1250.8 677.2C1255.0 677.6 1259.3 677.4 1263.5 677.4C1267.7 677.4 1272.0 677.5 1276.2 677.4C1280.4 677.3 1284.7 677.5 1288.9 677.0C1293.1 676.5 1297.4 675.5 1301.6 674.7C1305.8 673.9 1310.1 673.2 1314.3 672.2C1318.5 671.2 1322.8 670.2 1327.0 669.0C1331.2 667.8 1335.5 666.6 1339.7 665.2C1343.9 663.8 1348.2 662.3 1352.4 660.7C1356.6 659.1 1360.9 657.2 1365.1 655.4C1369.3 653.6 1373.6 651.8 1377.8 649.7C1382.0 647.6 1386.8 644.9 1390.5 643.0C1394.2 641.1 1396.3 640.2 1400.0 638.3C1403.7 636.4 1408.5 633.8 1412.7 631.4C1416.9 629.0 1421.2 626.3 1425.4 623.9C1429.6 621.5 1433.9 619.2 1438.1 616.8C1442.3 614.4 1446.6 612.1 1450.8 609.7C1455.0 607.4 1459.3 605.0 1463.5 602.7C1467.7 600.5 1472.0 598.2 1476.2 596.2C1480.4 594.2 1484.7 592.6 1488.9 591.0C1493.1 589.4 1497.4 588.0 1501.6 586.8C1505.8 585.5 1510.1 584.3 1514.3 583.5C1518.5 582.7 1524.0 582.1 1527.0 581.8C1530.0 581.5 1530.0 581.5 1532.1 581.6C1534.2 581.7 1536.3 581.7 1539.7 582.2C1543.1 582.7 1548.2 583.4 1552.4 584.5C1556.6 585.6 1560.9 587.0 1565.1 588.6C1569.3 590.2 1573.6 592.2 1577.8 594.2C1582.0 596.2 1586.3 598.4 1590.5 600.9C1594.7 603.4 1599.0 606.2 1603.2 609.1C1607.4 612.0 1611.7 615.2 1615.9 618.4C1620.1 621.6 1624.4 624.9 1628.6 628.2C1632.8 631.5 1637.1 634.8 1641.3 638.1C1645.5 641.5 1649.8 644.9 1654.0 648.3C1658.2 651.7 1662.5 655.1 1666.7 658.4C1670.9 661.7 1674.2 664.1 1679.4 667.9C1684.6 671.7 1692.9 677.8 1698.1 681.0C1703.3 684.2 1706.6 685.4 1710.8 687.4C1715.0 689.4 1719.3 691.3 1723.5 693.0C1727.7 694.7 1732.0 696.2 1736.2 697.5C1740.4 698.8 1744.7 699.9 1748.9 701.0C1753.1 702.1 1757.4 703.0 1761.6 703.9C1765.8 704.8 1770.1 705.5 1774.3 706.3C1778.5 707.1 1782.8 707.9 1787.0 708.5C1791.2 709.1 1795.5 709.7 1799.7 710.2C1803.9 710.7 1808.2 711.1 1812.4 711.4C1816.6 711.7 1820.9 711.7 1825.1 712.1C1829.3 712.5 1833.6 713.4 1837.8 714.0C1842.0 714.6 1846.3 715.5 1850.5 716.0C1854.7 716.5 1859.6 716.9 1863.2 717.1C1866.8 717.4 1868.9 717.5 1872.1 717.5C1875.3 717.5 1877.3 717.1 1882.2 716.8C1887.1 716.5 1896.0 715.8 1901.3 715.5C1906.6 715.2 1909.8 715.2 1914.0 715.2C1918.2 715.2 1922.5 715.3 1926.7 715.2C1930.9 715.1 1934.4 714.9 1939.4 714.5C1944.4 714.1 1949.5 713.2 1956.6 712.7C1963.7 712.2 1973.5 712.0 1982.0 711.4C1990.5 710.8 1999.8 709.8 2007.4 708.9C2015.0 708.0 2019.2 706.7 2027.7 706.3C2036.2 705.9 2048.9 706.3 2058.2 706.3C2067.5 706.3 2075.1 706.2 2083.6 706.3C2092.1 706.4 2100.6 706.1 2109.0 706.9C2117.4 707.7 2125.9 709.5 2134.3 710.9C2142.8 712.3 2151.2 713.8 2159.7 715.2C2168.2 716.7 2176.6 718.3 2185.1 719.6C2193.6 720.9 2202.0 721.9 2210.5 722.9C2219.0 723.9 2231.8 725.0 2236.0 725.4"/>
</g>
<g id="legend" stroke-width="9" stroke-linecap="round">
<rect x="234.8" y="103.9" width="173.4" height="9.2" rx="3" ry="3" fill="#008000" stroke="none"/>
<rect x="234.8" y="193.9" width="173.4" height="9.2" rx="3" ry="3" fill="#ff00ff" stroke="none"/>
<rect x="234.8" y="283.9" width="173.4" height="9.2" rx="3" ry="3" fill="#0000ff" stroke="none"/>
<rect x="234.8" y="373.9" width="173.4" height="9.2" rx="3" ry="3" fill="#ff0000" stroke="none"/>
<rect x="234.8" y="464.2" width="173.4" height="9.2" rx="3" ry="3" fill="#000" stroke="none"/>
</g>
<g class="s" font-size="60" fill="#000">
<text transform="translate(417.8 132.5) scale(0.971 1)">FSA-T10</text>
<text transform="translate(417.8 222.5) scale(0.971 1)">FSA-M10</text>
<text transform="translate(417.8 312.5) scale(0.971 1)">FSA-M5</text>
<text transform="translate(417.8 402.5) scale(0.971 1)">FSA-M1</text>
<text transform="translate(420.8 492.8) scale(0.971 1)">FSA</text>
</g>
<g class="s" font-size="60" fill="#000">
<text transform="translate(156.8 1584.8) scale(0.966 1)"><tspan dy="0.8" stroke="#fff" stroke-width="1.1">–</tspan><tspan dy="4.2">40</tspan></text>
<text transform="translate(1175.6 1584.8) scale(0.966 1)"><tspan dy="0.8" stroke="#fff" stroke-width="1.1">–</tspan><tspan dy="4.2">60</tspan></text>
<text transform="translate(2188.5 1584.8) scale(0.966 1)"><tspan dy="0.8" stroke="#fff" stroke-width="1.1">–</tspan><tspan dy="4.2">80</tspan></text>
</g>
<text class="b" font-size="74" x="1220.5" y="1714.7" text-anchor="middle" textLength="655" lengthAdjust="spacingAndGlyphs">Chemical shift (ppm)</text>
<text class="b" font-size="74" transform="translate(67.2 773.7) rotate(-90)" text-anchor="middle" textLength="464" lengthAdjust="spacingAndGlyphs">Intensity (a.u.)</text>
<g class="s" fill="#000">
<text x="1047.5" y="564.2" font-size="78">T<tspan font-size="51" dy="-24" dx="-1.5">2</tspan></text>
<text x="1509.5" y="564.2" font-size="78">T<tspan font-size="51" dy="-24" dx="-3">3</tspan></text>
</g>
<g transform="translate(0.0 0)">
<g fill="none" stroke="#000" stroke-width="3" stroke-linecap="round">
<path d="M1110.9 161V264.5"/>
<path d="M1140 298L1235.5 323.6"/>
<path d="M897 330H935.5"/>
<path d="M1020.5 469.7L1047 454.8"/>
<path d="M985.2 317.2L988.8 330.8M998.6 314.6L1001.8 326.4M1012.1 311.9L1014.8 322.0M1025.6 309.2L1027.8 317.6M1039.0 306.5L1040.8 313.2M1052.5 303.8L1053.8 308.8M1065.9 301.1L1066.8 304.4M1079.4 298.4L1079.8 300.0" stroke-linecap="round" stroke-width="3.4"/>
</g>
<path d="M1101.4 318.4L1104.9 319.3L1086.3 417.8L1070.3 413.4Z" fill="#000"/>
<g class="a" font-size="51" fill="#000" transform="translate(-0.4 0.4)">
<text x="1093.6" y="153.4">R</text>
<text x="1089.5" y="309">Si</text>
<text x="849" y="349">Si</text>
<text x="942" y="349">O</text>
<text x="1052" y="459">O</text>
<text x="968" y="495.4">Si</text>
<text x="1241.5" y="349">OH</text>
</g>
</g>
<g transform="translate(497.0 0)">
<g fill="none" stroke="#000" stroke-width="3" stroke-linecap="round">
<path d="M1110.9 161V264.5"/>
<path d="M1140 298L1235.5 323.6"/>
<path d="M897 330H935.5"/>
<path d="M1020.5 469.7L1047 454.8"/>
<path d="M1285 330H1325"/>
<path d="M985.2 317.2L988.8 330.8M998.6 314.6L1001.8 326.4M1012.1 311.9L1014.8 322.0M1025.6 309.2L1027.8 317.6M1039.0 306.5L1040.8 313.2M1052.5 303.8L1053.8 308.8M1065.9 301.1L1066.8 304.4M1079.4 298.4L1079.8 300.0" stroke-linecap="round" stroke-width="3.4"/>
</g>
<path d="M1101.4 318.4L1104.9 319.3L1086.3 417.8L1070.3 413.4Z" fill="#000"/>
<g class="a" font-size="51" fill="#000" transform="translate(-0.4 0.4)">
<text x="1093.6" y="153.4">R</text>
<text x="1089.5" y="309">Si</text>
<text x="849" y="349">Si</text>
<text x="942" y="349">O</text>
<text x="1052" y="459">O</text>
<text x="968" y="495.4">Si</text>
<text x="1241.5" y="349">O</text>
<text x="1331" y="349">Si</text>
</g>
</g>
</svg>
</body></html>
